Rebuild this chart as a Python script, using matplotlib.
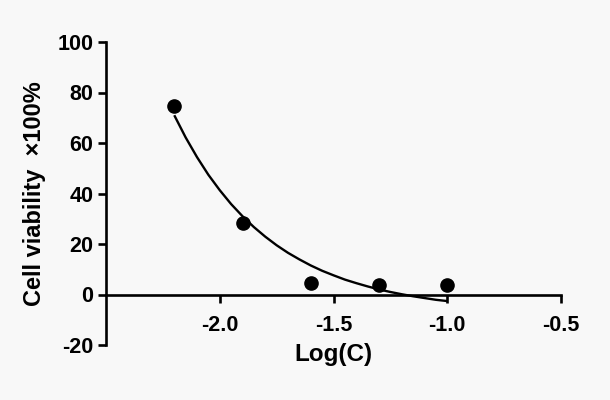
import numpy as np
import matplotlib
matplotlib.use("Agg")
import matplotlib.pyplot as plt

# --------------------------------------------------
# Data
# --------------------------------------------------
log_c = [-2.2, -1.9, -1.6, -1.3, -1.0]
viability = [74.7, 28.2, 4.4, 3.8, 3.7]

# fitted curve
curve_x = [-2.2, -2.15, -2.1, -2.05, -2.0, -1.95, -1.9, -1.85, -1.8, -1.75,
           -1.7, -1.65, -1.6, -1.55, -1.5, -1.45, -1.4, -1.35, -1.3, -1.25,
           -1.2, -1.15, -1.1, -1.05, -1.0]
curve_y = [71.0, 62.2, 54.4, 47.4, 41.3, 35.8, 31.0, 26.7, 22.9, 19.5,
           16.5, 13.9, 11.5, 9.4, 7.6, 5.9, 4.5, 3.2, 2.0, 1.0,
           0.1, -0.7, -1.4, -2.1, -2.6]

x_ticks = [-2.0, -1.5, -1.0, -0.5]
y_ticks = [-20, 0, 20, 40, 60, 80, 100]

# --------------------------------------------------
# Plot
# --------------------------------------------------
plt.rcParams["font.family"] = ["Liberation Sans", "DejaVu Sans"]
plt.rcParams["font.weight"] = "bold"
plt.rcParams["axes.unicode_minus"] = False

bg = "#f8f8f8"
fig = plt.figure(figsize=(6.1, 4.0), dpi=100, facecolor=bg)
ax = fig.add_axes([0.1738, 0.1375, 0.7459, 0.7575])
ax.set_facecolor(bg)

ax.plot(curve_x, curve_y, color="black", lw=1.7, solid_capstyle="butt")
ax.plot(log_c, viability, "o", color="black", ms=9.5, zorder=3)

ax.set_xlim(-2.5, -0.5)
ax.set_ylim(-20, 100)
ax.set_xticks(x_ticks)
ax.set_yticks(y_ticks)
ax.set_xticklabels([f"{t:.1f}" for t in x_ticks])

for s in ["top", "right"]:
    ax.spines[s].set_visible(False)
ax.spines["bottom"].set_position(("data", 0))
for s in ["bottom", "left"]:
    ax.spines[s].set_linewidth(1.9)

ax.tick_params(direction="out", length=6, width=1.9, labelsize=15.5,
               pad=3, colors="black")
ax.tick_params(axis="x", pad=9)
for lab in ax.get_xticklabels() + ax.get_yticklabels():
    lab.set_fontweight("bold")

ax.set_ylabel("Cell viability  \u00d7100%", fontsize=17, fontweight="bold",
              labelpad=8)
ax.set_xlabel("Log(C)", fontsize=17.5, fontweight="bold", labelpad=5)

fig.savefig("out.png", dpi=100, facecolor=bg)
